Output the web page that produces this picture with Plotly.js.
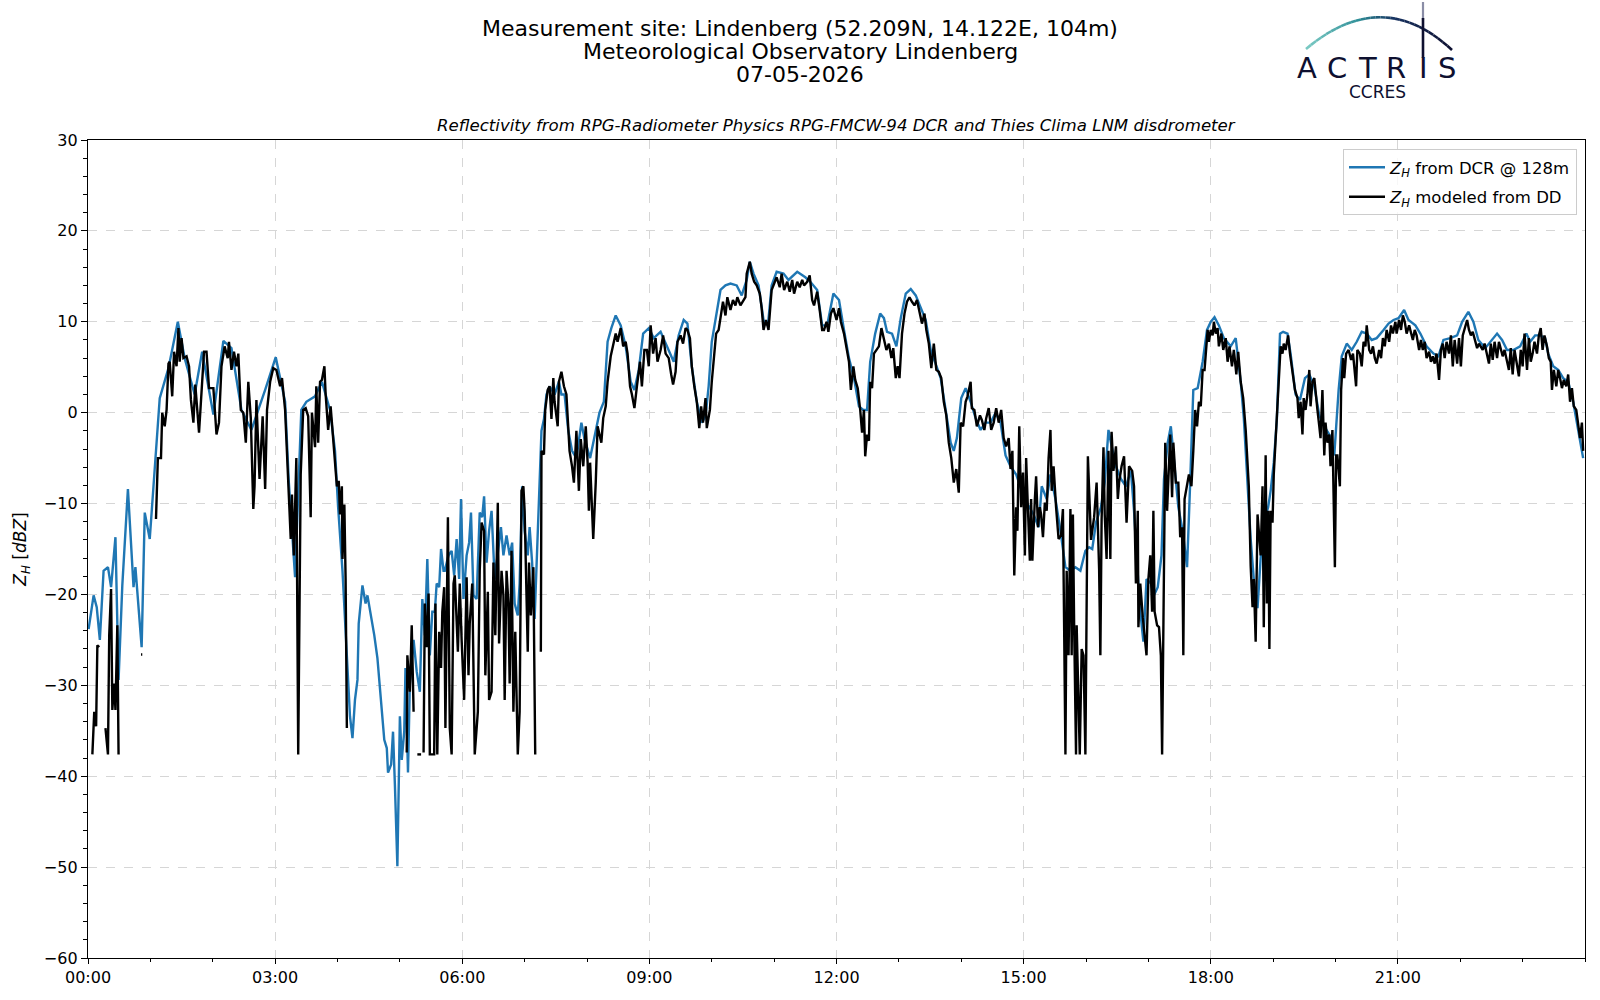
<!DOCTYPE html>
<html>
<head>
<meta charset="utf-8">
<script src="https://cdn.plot.ly/plotly-3.0.1.min.js"></script>
<style>html,body{margin:0;padding:0;background:#fff;}#chart{width:1600px;height:1000px;}</style>
</head>
<body>
<div id="chart"></div>
<script>
// ---- Data (hours since 00:00 UTC, reflectivity in dBZ) ----
const dcrHours = [0.01,0.09,0.14,0.19,0.25,0.32,0.37,0.44,0.49,0.55,0.64,0.73,0.76,0.81,0.86,0.91,0.99,1.05,1.15,1.29,1.44,1.55,1.71,1.83,2.01,2.17,2.30,2.46,2.62,2.84,3.01,3.16,3.22,3.32,3.42,3.50,3.64,3.75,3.88,3.96,4.01,4.08,4.15,4.20,4.24,4.28,4.32,4.34,4.40,4.45,4.48,4.54,4.59,4.64,4.69,4.75,4.79,4.81,4.86,4.89,4.92,4.96,5.00,5.03,5.07,5.09,5.13,5.16,5.22,5.27,5.32,5.36,5.40,5.44,5.48,5.52,5.56,5.59,5.63,5.66,5.70,5.72,5.78,5.83,5.87,5.91,5.95,5.98,6.02,6.07,6.11,6.14,6.18,6.23,6.28,6.32,6.35,6.39,6.43,6.47,6.52,6.58,6.62,6.66,6.71,6.76,6.80,6.84,6.89,6.92,6.96,7.00,7.05,7.08,7.12,7.16,7.23,7.27,7.31,7.35,7.40,7.48,7.55,7.59,7.64,7.70,7.76,7.83,7.91,7.96,8.05,8.14,8.20,8.27,8.33,8.39,8.46,8.54,8.62,8.70,8.76,8.83,8.90,8.99,9.07,9.18,9.28,9.39,9.47,9.55,9.61,9.68,9.76,9.84,9.90,9.95,10.00,10.08,10.14,10.22,10.30,10.40,10.48,10.56,10.61,10.67,10.75,10.83,10.90,10.96,11.04,11.15,11.23,11.37,11.50,11.58,11.69,11.77,11.85,11.95,12.04,12.12,12.20,12.28,12.36,12.43,12.49,12.54,12.62,12.70,12.76,12.81,12.89,12.96,13.03,13.11,13.19,13.27,13.35,13.43,13.51,13.59,13.67,13.75,13.83,13.88,13.93,14.00,14.07,14.15,14.23,14.31,14.39,14.47,14.55,14.63,14.71,14.79,14.88,14.97,15.05,15.16,15.24,15.29,15.37,15.43,15.51,15.59,15.67,15.75,15.83,15.91,15.99,16.05,16.10,16.16,16.24,16.30,16.36,16.40,16.48,16.56,16.64,16.72,16.77,16.81,16.87,16.92,16.97,17.04,17.09,17.15,17.21,17.25,17.31,17.36,17.41,17.48,17.55,17.62,17.67,17.72,17.79,17.87,17.94,18.00,18.06,18.13,18.21,18.32,18.40,18.48,18.53,18.59,18.64,18.69,18.75,18.80,18.85,18.92,18.96,19.01,19.06,19.11,19.16,19.23,19.28,19.36,19.43,19.51,19.58,19.66,19.74,19.82,19.90,19.98,20.05,20.10,20.18,20.26,20.34,20.42,20.50,20.58,20.66,20.77,20.85,20.93,21.01,21.10,21.17,21.28,21.36,21.46,21.57,21.65,21.73,21.84,21.95,22.03,22.13,22.21,22.29,22.40,22.48,22.59,22.67,22.75,22.85,22.96,23.06,23.12,23.20,23.28,23.36,23.41,23.49,23.57,23.65,23.73,23.81,23.89,23.97];
const dcrDbz = [-23.8,-20.1,-21.4,-25.0,-17.4,-17.0,-19.2,-13.7,-29.4,-19.0,-8.4,-19.2,-17.0,-21.9,-25.8,-11.0,-13.9,-8.1,1.6,4.9,10.0,6.0,2.0,6.7,-0.2,7.9,7.1,0.3,-1.9,2.5,6.1,1.2,-7.7,-18.1,0.3,1.2,1.8,3.4,0.3,-4.2,-10.4,-17.4,-27.6,-33.4,-35.8,-31.6,-29.4,-23.2,-19.0,-21.0,-20.1,-22.5,-24.5,-27.0,-30.7,-36.0,-36.9,-39.6,-38.7,-35.1,-40.9,-49.9,-33.4,-38.2,-35.1,-28.1,-39.6,-29.8,-25.0,-28.5,-30.7,-20.5,-24.5,-16.1,-26.7,-21.9,-21.9,-18.8,-19.2,-15.0,-17.4,-17.4,-15.7,-15.2,-17.9,-13.9,-18.3,-9.5,-20.5,-15.7,-14.3,-11.0,-20.1,-20.5,-11.0,-11.5,-9.2,-16.5,-13.0,-10.8,-18.3,-14.8,-12.6,-15.7,-13.5,-15.7,-14.3,-21.0,-22.3,-18.8,-8.1,-13.0,-15.7,-12.6,-16.5,-22.7,-10.4,-2.0,-0.7,2.0,2.9,2.0,3.4,2.0,2.0,-2.0,-4.2,-5.0,-1.1,-2.9,-5.0,-2.0,0.0,1.2,7.8,9.3,10.7,9.6,7.3,3.4,2.5,4.7,8.7,9.3,8.2,8.9,7.3,5.6,8.5,10.2,9.8,5.1,1.2,-1.1,-0.4,2.9,7.8,10.9,13.5,14.0,14.2,14.0,12.9,14.6,16.6,15.3,14.0,10.2,9.6,14.0,15.5,15.3,14.6,15.5,14.9,14.4,13.5,9.6,9.6,13.1,12.4,9.1,6.0,3.8,0.7,0.3,0.3,5.6,8.7,10.9,10.4,8.9,8.7,7.3,10.4,13.1,13.6,12.9,11.5,10.2,6.9,5.4,3.8,0.3,-3.3,-4.2,-2.8,1.6,2.7,1.2,-0.6,-1.9,-1.1,-1.1,0.0,-1.1,-4.7,-5.9,-6.8,-8.6,-9.9,-11.2,-12.6,-8.1,-9.5,-6.8,-9.5,-13.0,-17.0,-17.4,-17.0,-17.4,-15.2,-14.8,-15.0,-12.1,-10.4,-7.7,-1.9,-3.3,-5.9,-7.3,-8.1,-6.4,-10.8,-15.7,-21.9,-25.2,-18.3,-18.8,-20.1,-19.2,-15.7,-7.3,-3.3,-1.5,-5.0,-10.4,-13.0,-17.0,-7.7,2.5,2.7,5.6,9.1,10.0,10.5,9.6,8.2,7.3,8.2,3.4,-0.6,-8.6,-13.9,-18.3,-21.5,-16.0,-12.1,-10.4,-8.6,-5.5,-0.7,8.7,8.9,8.7,6.5,2.0,1.4,3.8,4.2,2.9,-0.3,-1.5,-2.4,-4.7,2.5,6.2,7.6,6.9,7.8,8.9,8.7,8.0,8.2,9.1,9.8,10.2,10.4,11.3,10.2,9.6,8.7,7.3,6.5,6.2,8.0,8.2,8.5,10.0,11.1,10.0,8.0,7.1,7.8,8.7,8.0,6.9,6.9,7.3,8.7,7.8,8.5,8.5,8.2,6.5,5.1,4.7,3.8,3.4,1.2,-1.9,-5.0];

// Disdrometer-modelled reflectivity; null = no data (gap)
const ddHours = [0.07,0.10,0.13,0.15,0.18,0.21,0.28,0.32,0.34,0.37,0.39,0.42,0.44,0.47,0.49,0.60,0.85,0.87,0.95,1.09,1.12,1.17,1.19,1.23,1.26,1.29,1.31,1.35,1.38,1.42,1.45,1.47,1.50,1.53,1.58,1.62,1.65,1.69,1.72,1.78,1.82,1.86,1.90,1.94,2.01,2.06,2.10,2.14,2.19,2.24,2.26,2.30,2.34,2.38,2.41,2.45,2.49,2.53,2.57,2.61,2.65,2.67,2.70,2.73,2.75,2.80,2.84,2.87,2.92,2.97,3.02,3.08,3.11,3.16,3.21,3.25,3.27,3.30,3.34,3.37,3.41,3.45,3.49,3.53,3.57,3.59,3.64,3.66,3.69,3.72,3.75,3.79,3.81,3.85,3.89,3.95,3.99,4.02,4.04,4.07,4.08,4.11,4.13,4.15,4.50,5.11,5.12,5.16,5.19,5.22,5.25,5.28,5.34,5.36,5.38,5.40,5.43,5.46,5.48,5.55,5.57,5.60,5.63,5.66,5.68,5.71,5.73,5.77,5.80,5.83,5.86,5.88,5.93,5.96,5.99,6.03,6.07,6.10,6.12,6.16,6.20,6.25,6.28,6.31,6.35,6.37,6.41,6.43,6.47,6.50,6.53,6.57,6.59,6.63,6.66,6.68,6.71,6.74,6.76,6.79,6.82,6.85,6.89,6.92,6.95,6.98,7.00,7.05,7.07,7.10,7.14,7.17,7.21,7.26,7.27,7.31,7.33,7.37,7.40,7.43,7.46,7.48,7.53,7.55,7.59,7.63,7.67,7.72,7.76,7.79,7.83,7.87,7.90,7.94,7.98,8.01,8.03,8.05,8.10,8.14,8.17,8.23,8.26,8.30,8.33,8.38,8.42,8.46,8.49,8.54,8.58,8.62,8.65,8.69,8.72,8.76,8.80,8.85,8.88,8.92,8.96,8.99,9.02,9.06,9.10,9.13,9.18,9.22,9.26,9.31,9.35,9.38,9.42,9.45,9.50,9.54,9.58,9.61,9.65,9.68,9.72,9.76,9.80,9.83,9.86,9.90,9.92,9.97,10.00,10.04,10.07,10.11,10.15,10.18,10.22,10.25,10.30,10.34,10.38,10.41,10.46,10.50,10.54,10.56,10.61,10.64,10.68,10.72,10.77,10.80,10.83,10.87,10.91,10.96,11.00,11.04,11.09,11.12,11.16,11.21,11.25,11.29,11.32,11.37,11.41,11.45,11.48,11.53,11.57,11.61,11.64,11.69,11.73,11.77,11.80,11.84,11.87,11.91,11.95,12.00,12.04,12.07,12.12,12.16,12.20,12.23,12.27,12.30,12.34,12.38,12.41,12.44,12.46,12.49,12.52,12.54,12.57,12.60,12.64,12.68,12.72,12.76,12.80,12.84,12.88,12.91,12.95,12.98,13.01,13.05,13.09,13.13,13.17,13.21,13.25,13.29,13.33,13.37,13.41,13.44,13.48,13.52,13.56,13.60,13.64,13.68,13.72,13.76,13.80,13.84,13.88,13.92,13.96,13.99,14.03,14.07,14.10,14.15,14.17,14.21,14.25,14.30,14.33,14.37,14.40,14.44,14.48,14.52,14.56,14.60,14.64,14.68,14.72,14.76,14.79,14.82,14.85,14.88,14.90,14.93,14.96,14.99,15.02,15.04,15.07,15.10,15.12,15.14,15.18,15.20,15.23,15.26,15.28,15.31,15.34,15.37,15.40,15.43,15.45,15.48,15.52,15.56,15.60,15.63,15.67,15.69,15.72,15.75,15.77,15.79,15.81,15.84,15.85,15.90,15.93,15.96,15.99,16.03,16.08,16.13,16.17,16.19,16.21,16.23,16.25,16.28,16.30,16.33,16.36,16.39,16.41,16.44,16.48,16.51,16.53,16.57,16.61,16.65,16.69,16.74,16.77,16.80,16.83,16.84,16.87,16.91,16.97,17.00,17.03,17.06,17.08,17.10,17.14,17.17,17.20,17.22,17.24,17.27,17.30,17.32,17.35,17.38,17.40,17.44,17.48,17.51,17.54,17.56,17.58,17.65,17.69,17.72,17.75,17.78,17.81,17.84,17.87,17.90,17.95,17.97,18.00,18.03,18.05,18.08,18.11,18.13,18.17,18.20,18.24,18.27,18.30,18.34,18.37,18.41,18.44,18.48,18.52,18.56,18.59,18.61,18.64,18.67,18.69,18.72,18.75,18.77,18.80,18.83,18.85,18.88,18.90,18.92,18.94,18.96,18.99,19.01,19.06,19.09,19.12,19.15,19.17,19.20,19.24,19.27,19.31,19.35,19.39,19.41,19.44,19.47,19.49,19.52,19.55,19.58,19.60,19.63,19.66,19.68,19.71,19.74,19.76,19.79,19.82,19.84,19.87,19.90,19.92,19.95,19.96,19.99,20.01,20.03,20.07,20.09,20.12,20.14,20.17,20.21,20.25,20.28,20.30,20.33,20.35,20.39,20.42,20.45,20.48,20.50,20.54,20.57,20.60,20.63,20.66,20.70,20.73,20.76,20.79,20.82,20.86,20.89,20.92,20.96,20.98,21.02,21.05,21.08,21.11,21.14,21.18,21.21,21.24,21.27,21.30,21.34,21.37,21.40,21.43,21.46,21.50,21.53,21.56,21.59,21.62,21.66,21.69,21.72,21.75,21.78,21.82,21.85,21.88,21.91,21.95,21.98,22.01,22.04,22.07,22.11,22.14,22.17,22.20,22.23,22.27,22.30,22.33,22.36,22.39,22.43,22.46,22.49,22.52,22.55,22.59,22.62,22.65,22.68,22.71,22.75,22.78,22.81,22.84,22.87,22.91,22.94,22.97,23.00,23.03,23.07,23.10,23.13,23.16,23.19,23.23,23.26,23.29,23.32,23.35,23.39,23.42,23.45,23.47,23.50,23.54,23.57,23.60,23.63,23.66,23.70,23.73,23.76,23.79,23.82,23.86,23.89,23.92,23.95,23.97];
const ddDbz = [-37.6,-32.9,-34.5,-25.6,-25.8,null,-34.7,-37.6,-24.5,-19.4,-32.7,-29.8,-32.7,-23.4,-37.6,null,-26.6,-26.6,null,-11.7,-5.0,-5.0,0.0,-1.5,0.3,5.4,5.6,1.8,6.7,5.1,9.3,5.6,8.2,6.0,6.2,5.1,1.4,-1.1,3.1,-2.2,2.0,6.7,6.7,2.7,2.7,-2.4,-1.1,5.1,7.3,6.0,7.8,4.7,6.7,5.1,6.5,0.3,0.0,-3.3,3.4,-0.6,-10.6,-8.1,1.4,-4.4,-7.3,-0.4,-8.4,0.3,3.4,4.9,4.7,2.9,3.8,0.3,-7.7,-13.9,-9.0,-15.7,-5.0,-37.6,-6.8,0.3,0.5,-0.4,-11.5,0.0,-3.8,2.9,-3.3,3.4,3.6,5.1,2.0,-1.9,0.7,-5.0,-8.1,-7.5,-11.2,-8.1,-16.1,-10.1,-18.3,-34.7,null,-37.4,-26.7,-30.7,-23.4,-32.9,null,-37.6,-37.6,null,-37.4,-21.0,-25.8,-19.9,-37.6,-37.6,-21.0,-37.6,-24.1,-28.1,-21.9,-19.2,-34.7,-11.5,-34.7,-37.6,-18.8,-17.9,-26.3,-18.8,-25.0,-31.6,-18.1,-28.9,-23.2,-18.8,-37.6,-32.9,-17.4,-12.1,-13.0,-28.9,-19.7,-31.6,-30.7,-16.5,-24.5,-9.9,-25.4,-17.4,-20.1,-31.6,-17.4,-21.0,-29.8,-15.2,-32.9,-24.1,-37.6,-32.9,-8.6,-8.1,-10.8,-26.3,-16.5,-22.3,-17.0,-37.6,null,-26.3,-4.2,-4.6,0.3,2.5,2.9,-0.7,3.8,1.2,-1.5,3.4,4.5,2.9,2.0,-4.2,-5.9,-7.7,-2.0,-8.6,-2.9,-5.9,-1.5,-5.5,-10.8,-5.5,-13.9,-7.7,-1.5,-3.3,-0.6,0.7,3.4,6.2,7.3,8.7,7.8,9.3,7.3,7.8,6.5,2.9,2.0,0.5,2.9,5.6,2.9,6.9,6.9,5.1,9.6,6.5,8.2,5.6,6.9,8.5,6.5,6.0,4.2,3.1,4.5,7.8,8.5,7.6,9.3,9.1,8.2,5.1,2.9,1.2,-1.7,0.7,-1.1,1.6,-1.7,0.3,3.4,6.0,8.7,9.1,10.9,12.2,10.7,12.7,11.3,12.4,11.8,12.7,11.8,12.2,12.7,15.3,16.6,15.3,14.4,14.0,13.1,11.5,9.1,10.2,9.1,13.5,14.2,14.9,13.8,15.3,13.5,14.4,13.3,14.6,13.1,14.4,13.8,14.6,14.0,14.4,15.1,12.4,11.8,13.3,11.3,9.1,9.1,10.0,8.9,10.9,11.5,10.2,11.5,10.0,8.7,7.3,5.6,2.5,5.1,3.6,2.7,0.3,-2.2,0.3,-4.8,-2.4,-3.1,3.4,2.7,6.5,6.9,7.3,9.3,8.2,6.9,7.6,6.0,7.1,3.8,5.1,3.8,8.7,10.9,12.2,12.7,12.2,11.8,12.4,11.1,9.8,10.9,9.1,7.6,4.9,7.6,4.7,4.5,3.8,1.2,-0.3,-3.3,-5.0,-7.7,-6.2,-8.8,-1.1,-1.5,1.2,1.8,3.4,0.5,0.3,-1.5,-0.3,-0.8,-1.9,-0.6,0.5,-1.9,-1.1,0.5,-1.1,0.3,-2.8,-3.7,-2.8,-6.2,-4.2,-17.9,-10.4,-13.0,-1.5,-10.4,-6.6,-15.7,-5.0,-10.8,-16.3,-9.5,-16.3,-9.5,-7.0,-12.6,-10.4,-11.2,-13.7,-9.9,-10.8,-5.0,-1.9,-8.6,-5.9,-10.4,-13.9,-13.5,-10.6,-37.6,-17.4,-26.7,-10.6,-26.7,-11.2,-23.6,-37.6,-23.4,-37.6,-26.0,-26.7,-37.6,-4.8,-14.0,-11.5,-7.7,-11.9,-17.2,-26.7,-11.8,-3.8,-11.2,-16.1,-4.2,-16.1,-2.1,-6.4,-3.7,-9.5,-7.7,-5.9,-4.8,-12.1,-5.9,-6.4,-8.1,-18.8,-10.8,-23.6,-18.8,-22.5,-26.7,-18.3,-15.7,-21.9,-10.8,-21.9,-23.4,-23.6,-26.7,-37.6,-25.4,-3.3,-10.8,-6.8,-2.4,-9.3,-3.3,-7.7,-7.7,-13.7,-12.6,-26.7,-9.5,-6.8,-8.1,-4.2,0.3,-1.5,1.2,0.7,4.7,4.7,9.1,7.8,9.1,8.5,10.0,8.7,9.3,7.3,8.7,6.9,8.2,5.6,7.3,5.1,6.9,4.2,6.7,3.4,1.6,-1.9,-6.4,-8.1,-16.9,-21.4,-18.3,-25.2,-11.2,-13.0,-15.7,-8.1,-23.6,-4.7,-21.0,-10.8,-26.0,-10.8,-12.1,-6.8,-0.6,3.4,7.3,6.5,7.6,6.9,8.5,6.5,4.7,2.5,1.6,-0.6,1.2,-2.4,1.6,0.3,2.0,4.7,0.7,3.4,3.8,2.0,0.3,-1.5,-2.8,2.5,-4.7,-1.1,-3.3,-2.4,-5.9,-1.9,-6.8,-17.0,-4.7,-4.7,-8.1,2.5,6.0,3.8,6.5,6.9,5.8,6.5,5.1,2.9,6.9,6.5,5.1,7.8,7.3,9.6,6.9,6.5,7.3,6.0,5.4,6.9,6.0,8.2,7.3,9.1,7.8,9.6,8.7,10.0,8.7,10.2,9.1,10.7,10.0,8.7,9.6,8.9,8.0,9.1,8.5,6.9,8.0,6.9,7.8,6.0,6.7,5.6,6.2,5.4,6.5,3.6,6.9,7.6,6.0,7.8,6.5,8.5,5.1,8.0,5.4,8.2,5.1,8.5,9.3,10.2,9.1,8.5,8.9,8.0,7.1,7.6,7.3,6.9,7.6,6.5,5.4,7.6,5.8,7.8,6.0,7.8,7.1,6.2,6.9,5.6,4.7,7.1,4.2,6.9,5.1,4.0,6.9,5.1,8.7,4.7,8.2,5.6,6.5,7.8,6.5,8.5,9.3,6.9,8.5,7.3,6.0,5.6,2.5,4.7,2.9,4.7,3.8,2.7,3.6,2.9,4.2,1.2,2.7,0.7,0.3,-1.5,-2.8,-1.1,-4.2];

const xTickHours = [0,3,6,9,12,15,18,21];

// ---- helpers ----
const DAY = Date.UTC(2026, 4, 7);
function toDate(h) {
  const d = new Date(DAY + Math.round(h * 3600000));
  return d.toISOString().slice(0, 19).replace('T', ' ');
}
const W = 1600, H = 1000, L = 88, R = 15, T = 140, B = 42;
const PW = W - L - R, PH = H - T - B;
const px = x => (x - L) / PW;          // pixel -> paper (x)
const py = y => (H - B - y) / PH;      // pixel -> paper (y)

const traces = [
  {
    x: dcrHours.map(toDate), y: dcrDbz, type: 'scatter', mode: 'lines',
    name: '<i>Z</i><sub><i>H</i></sub> from DCR @ 128m', legendgroup: 'dcr',
    line: {color: '#1f77b4', width: 2.4}
  },
  {
    x: ddHours.map(toDate), y: ddDbz, type: 'scatter', mode: 'lines',
    name: '<i>Z</i><sub><i>H</i></sub> modeled from DD', legendgroup: 'dd',
    line: {color: '#000000', width: 2.4}, connectgaps: false
  }
];

// ---- ACTRIS logo (decoration) ----
const shapes = [];
function hex2rgb(h){return [parseInt(h.slice(1,3),16),parseInt(h.slice(3,5),16),parseInt(h.slice(5,7),16)];}
const stops = [[0,'#7ccbc4'],[0.35,'#2f8f98'],[0.6,'#16315f'],[1,'#0e1030']];
function grad(t){
  for (let i=0;i<stops.length-1;i++){
    if (t<=stops[i+1][0]){
      const a=stops[i],b=stops[i+1],f=(t-a[0])/(b[0]-a[0]);
      const ca=hex2rgb(a[1]),cb=hex2rgb(b[1]);
      return 'rgb('+ca.map((v,k)=>Math.round(v+(cb[k]-v)*f)).join(',')+')';
    }
  }
  return stops[stops.length-1][1];
}
const P0=[1306,49],P1=[1382,-15],P2=[1452,50];
const N=30;
function bez(t){return [(1-t)*(1-t)*P0[0]+2*(1-t)*t*P1[0]+t*t*P2[0],(1-t)*(1-t)*P0[1]+2*(1-t)*t*P1[1]+t*t*P2[1]];}
for (let i=0;i<N;i++){
  const a=bez(i/N), b=bez((i+1)/N);
  shapes.push({type:'line',xref:'paper',yref:'paper',x0:px(a[0]),y0:py(a[1]),x1:px(b[0]),y1:py(b[1]),
    line:{color:grad((i+0.5)/N),width:2.6}});
}
// vertical stroke above the "I"
shapes.push({type:'line',xref:'paper',yref:'paper',x0:px(1423),y0:py(2),x1:px(1423),y1:py(20),line:{color:'#8a8da6',width:2.2}});
shapes.push({type:'line',xref:'paper',yref:'paper',x0:px(1423),y0:py(18),x1:px(1423),y1:py(58),line:{color:'#0e1030',width:2.6}});

const annotations = [
  {text:'Measurement site: Lindenberg (52.209N, 14.122E, 104m)',x:px(800),y:py(29)},
  {text:'Meteorological Observatory Lindenberg',x:px(800),y:py(52)},
  {text:'07-05-2026',x:px(800),y:py(75)}
].map(a=>Object.assign({xref:'paper',yref:'paper',xanchor:'center',yanchor:'middle',showarrow:false,
  font:{family:'DejaVu Sans',size:22,color:'#000'}},a));

annotations.push({text:'<i>Reflectivity from RPG-Radiometer Physics RPG-FMCW-94 DCR and Thies Clima LNM disdrometer</i>',
  xref:'paper',yref:'paper',x:0.5,y:py(125),xanchor:'center',yanchor:'middle',showarrow:false,
  font:{family:'DejaVu Sans',size:16.6,color:'#000'}});

const letters = [['A',1307],['C',1337],['T',1367],['R',1396],['I',1423],['S',1447]];
letters.forEach(([ch,x])=>{
  annotations.push({text:ch,xref:'paper',yref:'paper',x:px(x),y:py(68),xanchor:'center',yanchor:'middle',
    showarrow:false,font:{family:'DejaVu Sans',size:29,color:'#0e1030'}});
});
annotations.push({text:'CCRES',xref:'paper',yref:'paper',x:px(1377),y:py(92),xanchor:'center',yanchor:'middle',
  showarrow:false,font:{family:'DejaVu Sans',size:17,color:'#0e1030'}});

const layout = {
  width: W, height: H,
  margin: {l: L, r: R, t: T, b: B, pad: 0},
  paper_bgcolor: '#ffffff', plot_bgcolor: '#ffffff',
  font: {family: 'DejaVu Sans', size: 16, color: '#000'},
  showlegend: true,
  legend: {
    x: px(1577), y: py(149), xanchor: 'right', yanchor: 'top',
    bgcolor: 'rgba(255,255,255,0.8)', bordercolor: '#cccccc', borderwidth: 1,
    font: {family: 'DejaVu Sans', size: 16.5, color: '#000'}, tracegroupgap: 5,
    itemwidth: 36
  },
  xaxis: {
    type: 'date',
    range: [toDate(0), '2026-05-07 23:59:59'],
    tickvals: xTickHours.map(toDate),
    tickformat: '%H:%M',
    ticks: 'outside', ticklen: 5, tickwidth: 1, tickcolor: '#000',
    minor: {dtick: 3600000, tick0: toDate(0), ticks: 'outside', ticklen: 3, tickcolor: '#000', showgrid: false},
    showline: true, linecolor: '#000', linewidth: 1.2, mirror: true,
    showgrid: true, gridcolor: '#d6d6d6', griddash: 'dash', gridwidth: 1,
    zeroline: false, automargin: false,
    tickfont: {family: 'DejaVu Sans', size: 16, color: '#000'}
  },
  yaxis: {
    range: [-60, 30], dtick: 10, tick0: 0,
    ticks: 'outside', ticklen: 6, tickwidth: 1, tickcolor: '#000',
    minor: {dtick: 2, ticks: 'outside', ticklen: 3.5, tickcolor: '#000', showgrid: false},
    showline: true, linecolor: '#000', linewidth: 1.2, mirror: true,
    showgrid: true, gridcolor: '#d6d6d6', griddash: 'dash', gridwidth: 1,
    zeroline: false, automargin: false,
    tickfont: {family: 'DejaVu Sans', size: 16, color: '#000'},
    title: {text: '<i>Z</i><sub><i>H</i></sub> [<i>dBZ</i>]', standoff: 12,
      font: {family: 'DejaVu Sans', size: 17, color: '#000'}}
  },
  shapes: shapes,
  annotations: annotations
};

Plotly.newPlot('chart', traces, layout, {displayModeBar: false, staticPlot: true});
</script>
</body>
</html>
